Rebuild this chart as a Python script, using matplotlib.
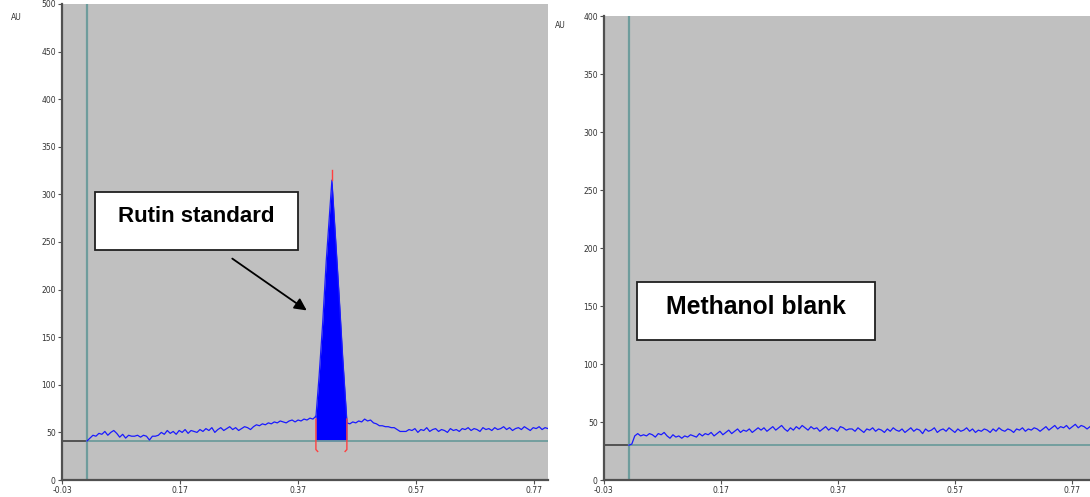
import numpy as np
import matplotlib
matplotlib.use('Agg')
from matplotlib import pyplot as plt
from matplotlib.patches import Rectangle, FancyArrowPatch

W, H = 1090, 497

# ---- Rutin standard chromatogram (left) ----
rutin_baseline = 41
rutin_start = 0.0124
rutin_pre = [41, 44,
             47, 46, 49, 48, 51, 47, 50, 52,
             49, 45, 48, 44, 47,
             46, 46, 47, 45, 47, 46, 42, 46, 46, 47,
             50, 48, 52, 49, 51, 48, 52, 50, 53, 49, 52, 51, 50, 53,
             51, 54, 52, 55, 50, 53, 55, 52, 54, 56, 53, 55, 52, 54, 56, 55, 53,
             56, 58, 57, 59, 58, 60, 59, 61, 60, 62, 61, 60, 62, 63, 61, 63, 62,
             64, 63, 65, 64, 67]
peak_x = [0.4005, 0.406, 0.412, 0.418, 0.4276, 0.434, 0.440, 0.446, 0.453]
peak_y = [66, 110, 165, 230, 315, 252, 192, 128, 62]
rutin_post = [60, 59, 61, 60, 62, 61, 64, 62, 63, 60,
              59, 57, 57, 56, 56, 55, 55,
              53, 51, 51,
              51, 53, 52, 54, 50, 53, 52, 55, 51, 53,
              54, 51, 53, 52, 50, 54, 52, 53, 51, 54,
              53, 55, 52, 54, 53, 51, 55, 53, 54, 52,
              55, 53, 54, 56, 53, 55, 52, 54, 55, 53,
              56, 54, 52, 55, 54, 56, 53, 55, 54]

# ---- Methanol blank chromatogram (right) ----
blank_baseline = 30
blank_start = 0.0125
blank = [30, 31, 38, 40, 38,
         39, 38, 40, 39, 37, 40, 39, 41, 38, 36, 39, 37, 38, 36, 38, 37, 39, 38, 37, 40,
         38, 40, 39, 41, 38, 40, 42, 39, 41, 43, 40, 42, 44, 41, 43, 42, 44, 41, 43, 45,
         43, 45, 42, 44, 46, 43, 45, 47, 44, 42, 45, 43, 46, 44, 47, 45, 43, 46, 44, 45,
         42, 44, 46, 43, 45, 44, 42, 46, 45, 43, 44,
         44, 42, 45, 43, 41, 44, 43, 45, 42, 44,
         43, 41, 44, 42, 45, 43, 42, 44, 41, 43,
         45, 42, 44, 43, 40, 44, 42, 43, 45, 41,
         43, 44, 42, 45, 43, 41, 44, 42, 43, 45,
         42, 44, 41, 43, 42, 44, 43, 41, 44, 42,
         45, 43, 42, 44, 43, 41, 44, 43, 45, 42,
         44, 43, 45, 44, 42,
         44, 46, 43, 45, 47, 44, 46, 45, 47, 44, 46, 48, 45, 47, 46, 44, 46]

x_ticks = [-0.03, 0.17, 0.37, 0.57, 0.77]
x_labels = ['-0.03', '0.17', '0.37', '0.57', '0.77']

GREY = '#c0c0c0'
TEAL = '#6e9c9c'
BLUE = '#1a1aff'


def fr(px, py):
    return px / W, 1 - py / H


def style(ax, ymax):
    ax.set_facecolor(GREY)
    for s in ['top', 'right']:
        ax.spines[s].set_visible(False)
    for s in ['left', 'bottom']:
        ax.spines[s].set_color('#505050')
        ax.spines[s].set_linewidth(1.6)
    ax.set_yticks(np.arange(0, ymax + 1, 50))
    ax.set_xticks(x_ticks)
    ax.set_xticklabels(x_labels)
    ax.tick_params(labelsize=5.5, colors='#505050', labelcolor='#333333',
                   length=3, width=0.8, pad=1.5)


fig = plt.figure(figsize=(W / 100, H / 100), dpi=100)

# left panel
ax1 = fig.add_axes([62 / W, 17 / H, 486 / W, 476 / H])
ax1.set_xlim(-0.03, 0.794)
ax1.set_ylim(0, 500)
style(ax1, 500)
xe = ax1.get_xlim()[1]
pre_x = np.linspace(rutin_start, peak_x[0], len(rutin_pre))
post_x = np.linspace(peak_x[-1], xe, len(rutin_post))
ax1.plot([-0.03, rutin_start], [rutin_baseline] * 2, color='#404040', lw=1.2)
ax1.plot([rutin_start, xe], [rutin_baseline] * 2, color=TEAL, lw=1.3)
ax1.axvline(rutin_start, color=TEAL, lw=1.6)
ax1.fill_between(peak_x, rutin_baseline, peak_y, color='#0000ff', lw=0)
ax1.plot(pre_x, rutin_pre, color=BLUE, lw=0.9)
ax1.plot(peak_x, peak_y, color=BLUE, lw=0.9)
ax1.plot(post_x, rutin_post, color=BLUE, lw=0.9)
# integration markers
for xm, hook in [(peak_x[0], 0.003), (peak_x[-1], -0.003)]:
    ax1.plot([xm, xm, xm + hook], [64, 32, 30], color='#ff4040', lw=1)
ax1.plot([peak_x[4], peak_x[4]], [315, 326], color='#ff4040', lw=1)

# right panel
ax2 = fig.add_axes([604 / W, 17 / H, 486 / W, 464 / H])
ax2.set_xlim(-0.03, 0.80)
ax2.set_ylim(0, 400)
style(ax2, 400)
bx = np.linspace(blank_start, 0.80, len(blank))
ax2.plot([-0.03, blank_start], [blank_baseline] * 2, color='#404040', lw=1.2)
ax2.plot([blank_start, 0.80], [blank_baseline] * 2, color=TEAL, lw=1.3)
ax2.axvline(blank_start, color=TEAL, lw=1.6)
ax2.plot(bx, blank, color=BLUE, lw=0.9)

# AU labels
fig.text(*fr(16, 17), 'AU', fontsize=5.5, color='#333333', ha='center', va='center')
fig.text(*fr(560, 26), 'AU', fontsize=5.5, color='#333333', ha='center', va='center')

# annotation boxes
for (x0, y0, x1, y1), label, fs in [((95, 192, 298, 250), 'Rutin standard', 16),
                                    ((637, 282, 875, 340), 'Methanol blank', 17.8)]:
    fx0, fy1 = fr(x0, y1)
    fx1, fy0 = fr(x1, y0)
    fig.add_artist(Rectangle((fx0, fy1), fx1 - fx0, fy0 - fy1, transform=fig.transFigure,
                             facecolor='white', edgecolor='#202020', lw=1.3, zorder=5))
    cx, cy = fr((x0 + x1) / 2, (y0 + y1) / 2 - 4)
    fig.text(cx, cy, label, fontsize=fs, fontweight='bold', family='Liberation Sans',
             ha='center', va='center', zorder=6)

fig.add_artist(FancyArrowPatch(fr(230, 257), fr(309, 312), transform=fig.transFigure,
                               arrowstyle='-|>', mutation_scale=18, color='black',
                               lw=1.3, zorder=6))

plt.savefig('out.png', dpi=100)
